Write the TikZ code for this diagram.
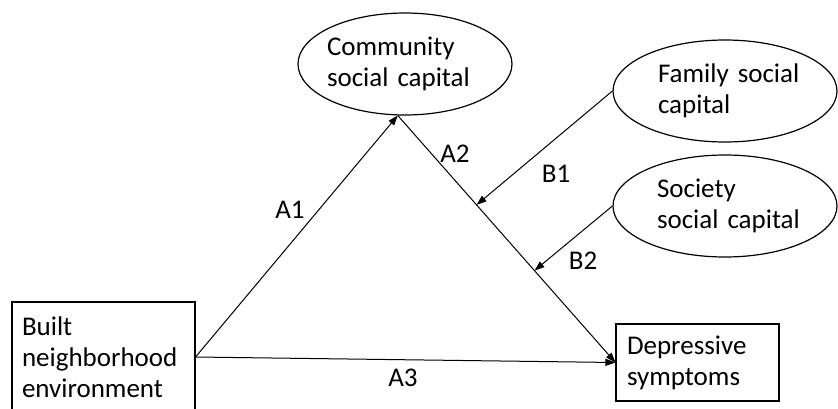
\documentclass[tikz,border=0pt]{standalone}
\usepackage{fontspec}
\setmainfont{Carlito}
\usetikzlibrary{arrows.meta,calc,shapes.geometric}
\begin{document}
\begin{tikzpicture}[x=1pt,y=-1pt,
  every node/.style={font=\fontsize{27}{31}\selectfont},
  oval/.style={ellipse,draw,line width=1.2pt,minimum width=#1,minimum height=102pt,inner xsep=-20pt,inner ysep=0pt,align=left},
  boxnode/.style={rectangle,draw,line width=1.1pt,inner xsep=10pt,inner ysep=0pt,align=left},
  conn/.style={line width=1pt,-{Triangle[length=10pt,width=7pt]}},
  lbl/.style={inner sep=0pt}]
\useasboundingbox (0,0) rectangle (838,408);
\node[oval=214pt,text width=156pt] (comm) at (405,64) {Community\\social capital};
\node[oval=224pt,text width=154pt] (fam) at (725,91) {\hspace*{10pt}Family social\\\hspace*{10pt}capital};
\node[oval=224pt,text width=154pt] (soc) at (725,206) {\hspace*{9pt}Society\\\hspace*{9pt}social capital};
\node[boxnode,minimum width=183pt,minimum height=110pt,text width=163pt] (built) at (103.5,357) {Built\\neighborhood\\environment};
\node[boxnode,minimum width=163pt,minimum height=77pt,text width=141pt,inner xsep=11pt] (dep) at (697.5,362.5) {Depressive\\symptoms};
\coordinate (apex) at (comm.262);
\draw[conn] (built.east) -- (apex);
\draw[conn] (apex) -- (dep.west);
\draw[conn] (built.east) -- (dep.west);
\coordinate (m1) at ($(apex)!0.362!(dep.west)$);
\coordinate (m2) at ($(apex)!0.628!(dep.west)$);
\draw[conn] (fam.west) -- (m1);
\draw[conn] (soc.west) -- (m2);
\node[lbl] (a1) at (290,210) {A1};
\node[lbl] (a2) at (455,154) {A2};
\node[lbl] (a3) at (403,378) {A3};
\node[lbl] (b1) at (556,174) {B1};
\node[lbl] (b2) at (583,261) {B2};
\end{tikzpicture}
\end{document}
